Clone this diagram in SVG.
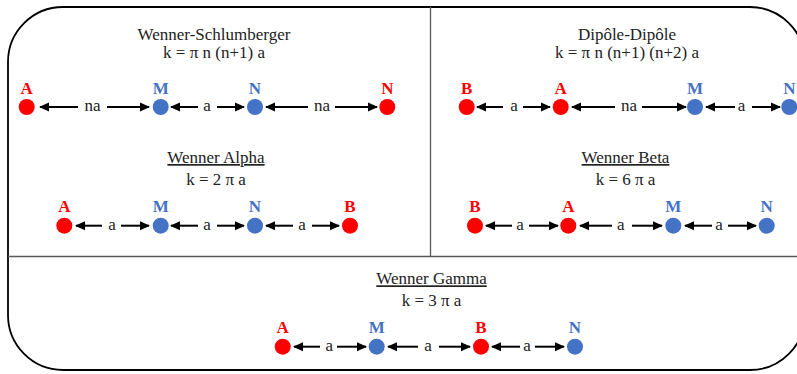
<svg xmlns="http://www.w3.org/2000/svg" width="797" height="374" viewBox="0 0 797 374">
<style>
.t{font-family:"Liberation Serif","Times New Roman",serif;font-size:17px;fill:#222;text-anchor:middle}
.u{text-decoration:underline}
.l{font-family:"Liberation Serif","Times New Roman",serif;font-size:17px;font-weight:bold;text-anchor:middle}
.r{fill:#ff0000}
.b{fill:#4472c4}
.c{font-family:"Liberation Serif","Times New Roman",serif;font-size:17px;fill:#222;text-anchor:middle}
.ar{stroke:#000;stroke-width:2;fill:none;marker-end:url(#h)}
.div{stroke:#595959;stroke-width:1.3;fill:none}
</style>
<defs>
<marker id="h" markerUnits="userSpaceOnUse" markerWidth="10" markerHeight="10" viewBox="0 0 10 10" refX="9" refY="5" orient="auto">
<path d="M0,0.5 L10,5 L0,9.5 Z" fill="#000"/>
</marker>
</defs>
<rect x="0" y="0" width="797" height="374" fill="#fff"/>
<g id="frame">
<rect x="8" y="7" width="797" height="363" rx="55" ry="55" fill="none" stroke="#000" stroke-width="1.8"/>
<line class="div" x1="430.5" y1="7" x2="430.5" y2="256"/>
<line class="div" x1="8" y1="256.5" x2="797" y2="256.5"/>
</g>
<g id="titles">
<text class="t" x="214" y="39.5">Wenner-Schlumberger</text>
<text class="t" x="214" y="58.3">k = π n (n+1) a</text>
<text class="t" x="627" y="39.5">Dipôle-Dipôle</text>
<text class="t" x="627" y="58.3">k = π n (n+1) (n+2) a</text>
<text class="t u" x="216" y="163">Wenner Alpha</text>
<text class="t" x="216" y="185">k = 2 π a</text>
<text class="t u" x="625.5" y="163">Wenner Beta</text>
<text class="t" x="625.5" y="185">k = 6 π a</text>
<text class="t u" x="431.5" y="284.3">Wenner Gamma</text>
<text class="t" x="431.5" y="305.5">k = 3 π a</text>
</g>
<g id="connectors">
<line class="ar" x1="78" y1="107" x2="40" y2="107"/><text class="c" x="92.5" y="111">na</text><line class="ar" x1="107" y1="107" x2="149" y2="107"/>
<line class="ar" x1="198" y1="107" x2="171" y2="107"/><text class="c" x="207" y="111">a</text><line class="ar" x1="217" y1="107" x2="244" y2="107"/>
<line class="ar" x1="308" y1="107" x2="266" y2="107"/><text class="c" x="322" y="111">na</text><line class="ar" x1="335" y1="107" x2="377" y2="107"/>
<line class="ar" x1="503" y1="107" x2="477" y2="107"/><text class="c" x="514" y="111">a</text><line class="ar" x1="523" y1="107" x2="550" y2="107"/>
<line class="ar" x1="615" y1="107" x2="572" y2="107"/><text class="c" x="629" y="111">na</text><line class="ar" x1="642" y1="107" x2="686" y2="107"/>
<line class="ar" x1="735" y1="107" x2="706" y2="107"/><text class="c" x="741.5" y="111">a</text><line class="ar" x1="752" y1="107" x2="780" y2="107"/>
<line class="ar" x1="102" y1="225.7" x2="76" y2="225.7"/><text class="c" x="112" y="229.7">a</text><line class="ar" x1="121" y1="225.7" x2="149" y2="225.7"/>
<line class="ar" x1="198" y1="225.7" x2="171" y2="225.7"/><text class="c" x="207" y="229.7">a</text><line class="ar" x1="217" y1="225.7" x2="244" y2="225.7"/>
<line class="ar" x1="293" y1="225.7" x2="266" y2="225.7"/><text class="c" x="302" y="229.7">a</text><line class="ar" x1="312" y1="225.7" x2="339" y2="225.7"/>
<line class="ar" x1="512" y1="225.7" x2="486" y2="225.7"/><text class="c" x="520" y="229.7">a</text><line class="ar" x1="529" y1="225.7" x2="558" y2="225.7"/>
<line class="ar" x1="612" y1="225.7" x2="580" y2="225.7"/><text class="c" x="620.7" y="229.7">a</text><line class="ar" x1="632" y1="225.7" x2="662" y2="225.7"/>
<line class="ar" x1="712" y1="225.7" x2="685" y2="225.7"/><text class="c" x="719" y="229.7">a</text><line class="ar" x1="728" y1="225.7" x2="756" y2="225.7"/>
<line class="ar" x1="320" y1="346.7" x2="294" y2="346.7"/><text class="c" x="329.3" y="350.7">a</text><line class="ar" x1="337" y1="346.7" x2="366" y2="346.7"/>
<line class="ar" x1="418" y1="346.7" x2="388" y2="346.7"/><text class="c" x="428" y="350.7">a</text><line class="ar" x1="439" y1="346.7" x2="470" y2="346.7"/>
<line class="ar" x1="520" y1="346.7" x2="492" y2="346.7"/><text class="c" x="527" y="350.7">a</text><line class="ar" x1="535" y1="346.7" x2="564" y2="346.7"/>
</g>
<g id="ws-A"><circle class="r" cx="26.7" cy="107" r="8"/><text class="l r" x="26.7" y="94">A</text></g>
<g id="ws-M"><circle class="b" cx="160.7" cy="107" r="8"/><text class="l b" x="160.7" y="94">M</text></g>
<g id="ws-N"><circle class="b" cx="255" cy="107" r="8"/><text class="l b" x="255" y="94">N</text></g>
<g id="ws-N2"><circle class="r" cx="387.3" cy="107" r="8"/><text class="l r" x="387.3" y="94">N</text></g>
<g id="dd-B"><circle class="r" cx="466.7" cy="107" r="8"/><text class="l r" x="466.7" y="94">B</text></g>
<g id="dd-A"><circle class="r" cx="560.7" cy="107" r="8"/><text class="l r" x="560.7" y="94">A</text></g>
<g id="dd-M"><circle class="b" cx="695" cy="107" r="8"/><text class="l b" x="695" y="94">M</text></g>
<g id="dd-N"><circle class="b" cx="789.3" cy="107" r="8"/><text class="l b" x="789.3" y="94">N</text></g>
<g id="wa-A"><circle class="r" cx="64.3" cy="225.7" r="8"/><text class="l r" x="64.3" y="211.5">A</text></g>
<g id="wa-M"><circle class="b" cx="160.7" cy="225.7" r="8"/><text class="l b" x="160.7" y="211.5">M</text></g>
<g id="wa-N"><circle class="b" cx="255" cy="225.7" r="8"/><text class="l b" x="255" y="211.5">N</text></g>
<g id="wa-B"><circle class="r" cx="350" cy="225.7" r="8"/><text class="l r" x="350" y="211.5">B</text></g>
<g id="wb-B"><circle class="r" cx="475" cy="225.7" r="8"/><text class="l r" x="475" y="211.5">B</text></g>
<g id="wb-A"><circle class="r" cx="568.3" cy="225.7" r="8"/><text class="l r" x="568.3" y="211.5">A</text></g>
<g id="wb-M"><circle class="b" cx="673.3" cy="225.7" r="8"/><text class="l b" x="673.3" y="211.5">M</text></g>
<g id="wb-N"><circle class="b" cx="766.7" cy="225.7" r="8"/><text class="l b" x="766.7" y="211.5">N</text></g>
<g id="wg-A"><circle class="r" cx="282.7" cy="346.7" r="8"/><text class="l r" x="282.7" y="333">A</text></g>
<g id="wg-M"><circle class="b" cx="376.7" cy="346.7" r="8"/><text class="l b" x="376.7" y="333">M</text></g>
<g id="wg-B"><circle class="r" cx="481" cy="346.7" r="8"/><text class="l r" x="481" y="333">B</text></g>
<g id="wg-N"><circle class="b" cx="575" cy="346.7" r="8"/><text class="l b" x="575" y="333">N</text></g>
</svg>
